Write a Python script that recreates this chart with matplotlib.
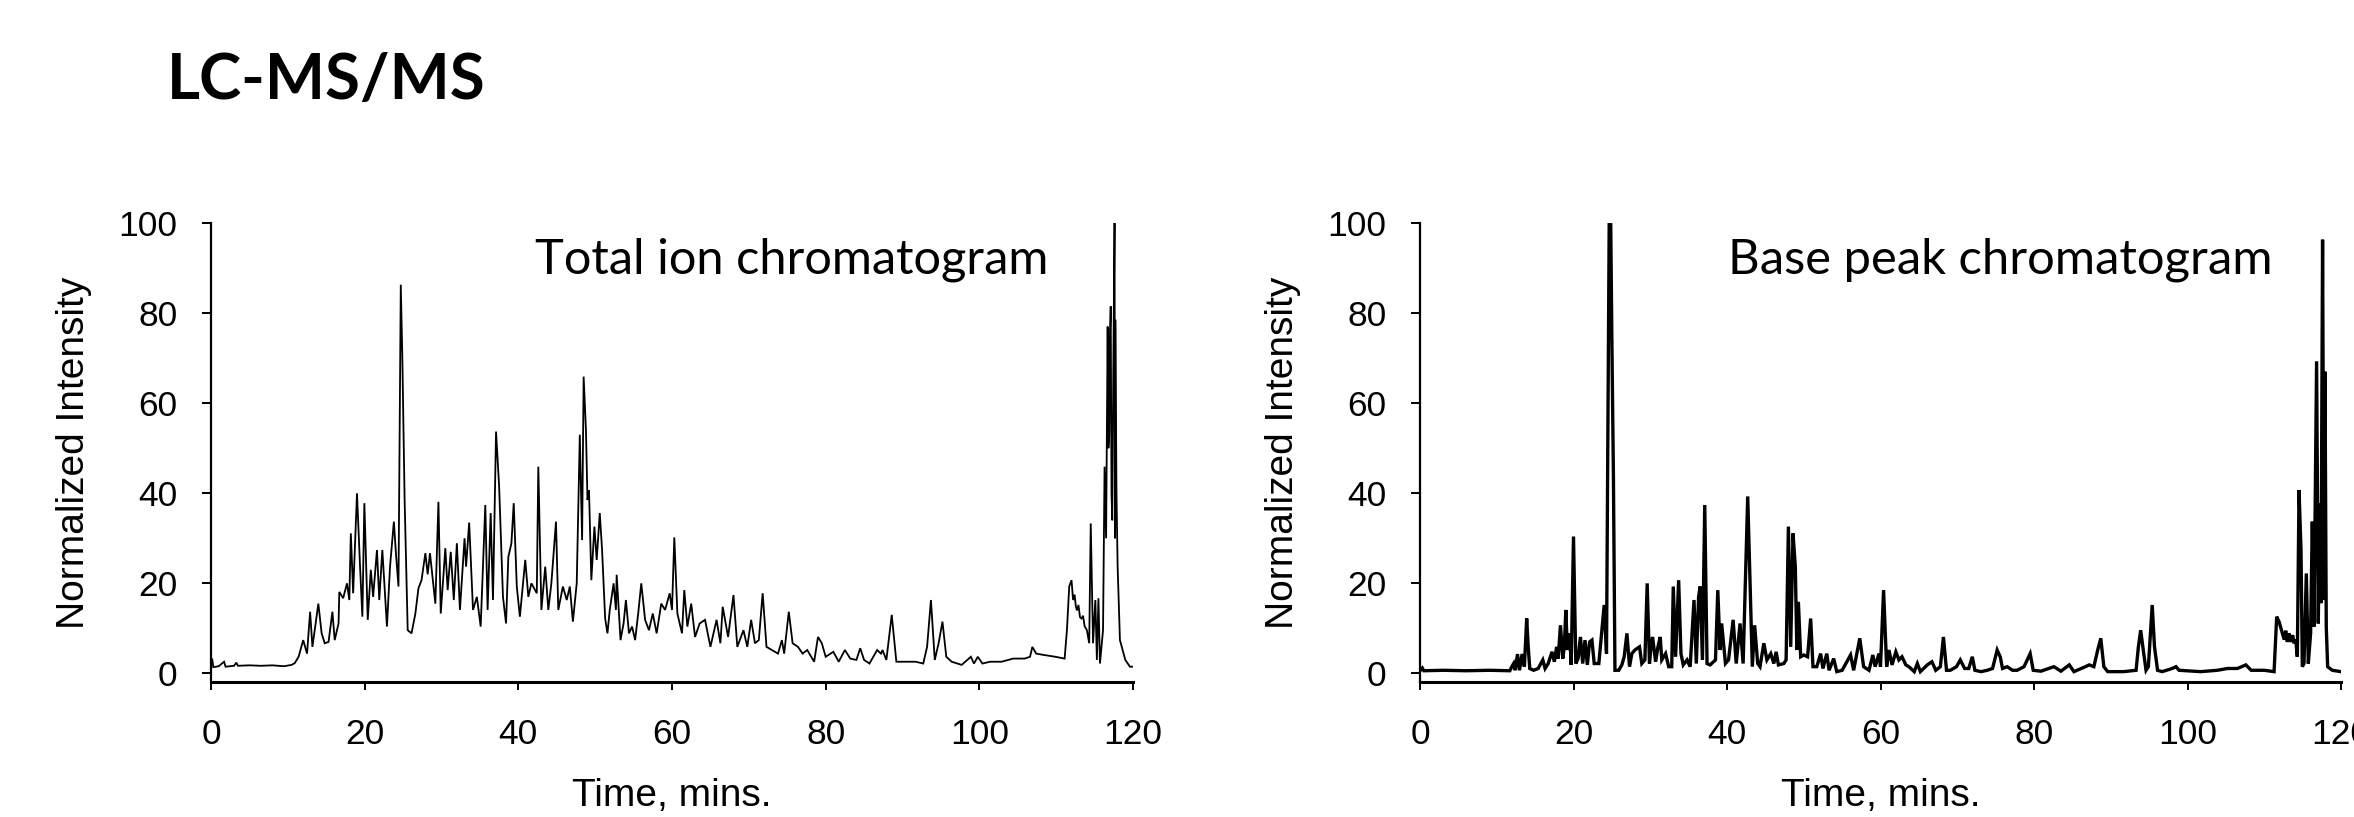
import matplotlib
matplotlib.use("Agg")
import matplotlib.pyplot as plt

# ---------------- data ----------------
tic_time = [0.0, 0.15, 0.3, 1.0, 1.7, 1.9, 3.0, 3.3, 3.5, 5.0, 6.5, 8.0, 9.5, 10.5, 10.9,
            11.4, 12.0, 12.5, 12.9, 13.2, 13.5, 13.97, 14.4, 14.8, 15.3, 15.8, 16.1, 16.6,
            16.7, 17.2, 17.7, 18.0, 18.2, 18.5, 19.0, 19.4, 19.7, 19.96, 20.4, 20.8, 21.1,
            21.6, 21.9, 22.3, 22.9, 23.3, 23.8, 24.1, 24.4, 24.7, 24.9, 25.2, 25.6, 26.1,
            26.6, 27.0, 27.4, 27.9, 28.2, 28.5, 29.2, 29.6, 29.9, 30.5, 30.8, 31.2, 31.6,
            32.0, 32.4, 33.0, 33.2, 33.6, 34.1, 34.6, 35.1, 35.7, 36.0, 36.4, 36.7, 37.1,
            37.5, 38.0, 38.4, 38.7, 39.1, 39.4, 39.8, 40.2, 40.9, 41.3, 41.7, 42.4, 42.6,
            43.0, 43.5, 43.9, 44.3, 44.9, 45.2, 45.8, 46.3, 46.7, 47.1, 47.6, 48.0, 48.3,
            48.5, 48.8, 49.0, 49.2, 49.5, 49.9, 50.2, 50.6, 50.9, 51.3, 51.6, 51.9, 52.4,
            52.7, 52.8, 53.3, 53.7, 54.0, 54.4, 54.8, 55.2, 55.6, 56.0, 56.5, 57.0, 57.5,
            58.0, 58.6, 59.1, 59.7, 60.0, 60.3, 60.7, 61.3, 61.6, 62.0, 62.5, 63.0, 63.6,
            64.3, 65.0, 65.8, 66.3, 66.6, 67.3, 68.0, 68.5, 69.3, 69.8, 70.3, 70.8, 71.3,
            71.8, 72.3, 73.0, 73.8, 74.3, 74.6, 75.2, 75.7, 76.4, 77.0, 77.6, 78.5, 79.0,
            79.5, 80.0, 81.0, 81.7, 82.5, 83.2, 84.0, 84.5, 85.0, 85.7, 86.7, 87.2, 87.4,
            87.9, 88.6, 89.2, 90.4, 91.7, 92.7, 93.2, 93.7, 94.2, 94.7, 95.2, 95.7, 96.4,
            97.7, 98.9, 99.3, 99.8, 100.4, 101.4, 102.9, 104.4, 105.9, 106.6, 106.9, 107.4,
            108.4, 109.9, 111.1, 111.4, 111.7, 112.0, 112.2, 112.4, 112.55, 112.7, 112.9,
            113.1, 113.3, 113.5, 113.7, 114.0, 114.3, 114.5, 114.8, 115.1, 115.3, 115.5,
            115.7, 116.1, 116.3, 116.5, 116.7, 116.8, 116.9, 117.0, 117.1, 117.2, 117.3,
            117.45, 117.6, 117.65, 117.7, 117.85, 118.0, 118.3, 119.0, 119.6, 120.0]
tic_intensity = [1.5, 3.3, 1.4, 1.6, 2.6, 1.5, 1.7, 2.4, 1.7, 1.8, 1.7, 1.8, 1.6, 1.9, 2.3,
                 3.7, 7.4, 4.4, 13.7, 5.9, 9.6, 15.5, 8.9, 6.7, 7.0, 13.7, 7.4, 11.1,
                 18.1, 16.7, 20.0, 16.3, 31.1, 17.8, 40.0, 23.7, 12.6, 37.8, 11.9, 23.0, 17.0,
                 27.4, 16.3, 27.4, 10.4, 23.7, 33.7, 25.9, 19.3, 86.3, 70.4, 38.5, 9.6, 8.9,
                 13.3, 18.9, 20.7, 26.7, 22.0, 26.7, 15.5, 38.1, 13.3, 27.8, 18.5, 27.0, 16.3,
                 28.9, 14.1, 30.0, 23.7, 33.5, 14.1, 17.0, 10.4, 37.4, 14.1, 35.6, 16.3, 53.7,
                 41.5, 17.0, 11.1, 25.9, 28.9, 37.8, 19.3, 12.6, 25.2, 17.0, 20.0, 17.8, 45.9,
                 14.1, 23.7, 14.1, 20.0, 33.7, 14.1, 19.3, 16.3, 19.3, 11.5, 20.0, 53.0, 29.6,
                 65.9, 54.0, 38.5, 40.7, 20.7, 32.6, 25.2, 35.6, 27.4, 12.2, 8.9, 14.1, 20.0,
                 14.1, 21.9, 7.4, 11.1, 16.3, 8.9, 10.4, 7.4, 13.3, 20.0, 11.9, 9.6, 13.3,
                 8.9, 15.5, 14.1, 17.8, 14.1, 30.2, 13.3, 8.9, 18.5, 10.4, 15.5, 8.1, 11.1,
                 11.9, 5.9, 11.9, 6.7, 14.8, 8.1, 17.4, 5.9, 9.6, 5.9, 11.9, 6.7, 7.4,
                 17.8, 5.9, 5.2, 4.4, 7.4, 4.4, 13.7, 6.7, 5.9, 4.4, 5.2, 2.6, 8.1,
                 6.7, 3.7, 4.8, 2.6, 5.2, 3.3, 3.0, 5.6, 3.0, 2.2, 5.2, 4.4, 5.2,
                 3.0, 13.0, 2.6, 2.6, 2.6, 2.2, 5.9, 16.3, 3.0, 6.7, 11.5, 3.7, 2.6,
                 1.9, 3.7, 2.2, 3.7, 2.2, 2.6, 2.6, 3.3, 3.3, 3.7, 5.9, 4.4,
                 4.1, 3.7, 3.3, 9.6, 19.3, 20.7, 16.3, 17.5, 15.0, 14.0, 15.2,
                 12.5, 12.2, 12.8, 10.5, 9.6, 6.7, 33.3, 6.7, 16.3, 3.0, 16.7,
                 2.2, 9.6, 45.9, 30.0, 77.0, 50.0, 53.0, 75.0, 81.5, 40.0, 34.0,
                 70.0, 100.0, 30.0, 78.5, 40.0, 23.7, 7.4, 3.0, 1.5, 1.5]

bpc_time = [0.0, 0.3, 0.5, 3.0, 6.0, 9.0, 11.7, 11.96, 12.2, 12.4, 12.7, 12.96, 13.3, 13.6,
            13.9, 14.1, 14.3, 14.8, 15.4, 16.0, 16.3, 16.7, 17.2, 17.5, 17.8, 18.0, 18.3,
            18.6, 18.8, 19.0, 19.2, 19.5, 19.7, 20.0, 20.3, 20.6, 20.9, 21.2, 21.5, 21.8,
            22.1, 22.4, 22.7, 23.3, 23.7, 24.0, 24.3, 24.65, 24.85, 25.0, 25.2, 25.4, 25.9,
            26.3, 26.6, 26.96, 27.3, 27.6, 28.0, 28.6, 28.9, 29.3, 29.6, 29.9, 30.1, 30.3,
            30.7, 31.0, 31.3, 31.5, 32.0, 32.4, 32.8, 33.0, 33.3, 33.7, 34.0, 34.3, 34.8,
            35.2, 35.7, 36.0, 36.3, 36.5, 36.8, 37.1, 37.4, 37.8, 38.5, 38.8, 39.1, 39.3,
            39.8, 40.2, 40.8, 41.2, 41.7, 42.1, 42.7, 43.0, 43.3, 43.6, 44.0, 44.3, 44.8,
            45.2, 45.7, 46.1, 46.4, 46.7, 47.4, 47.7, 48.0, 48.3, 48.6, 48.9, 49.1, 49.3,
            49.6, 50.0, 50.5, 50.9, 51.2, 51.7, 52.2, 52.5, 53.0, 53.3, 53.9, 54.3, 55.0,
            56.1, 56.5, 57.3, 57.8, 58.5, 59.0, 59.3, 59.8, 60.0, 60.4, 60.8, 61.1, 61.5,
            62.0, 62.4, 62.8, 63.3, 63.7, 64.4, 64.8, 65.2, 66.1, 66.7, 67.2, 67.8, 68.2,
            68.6, 69.1, 69.9, 70.4, 70.96, 71.5, 71.96, 72.3, 73.1, 73.9, 74.6, 75.2, 75.6,
            75.9, 76.5, 77.2, 77.8, 78.7, 79.5, 79.9, 80.9, 82.6, 83.5, 84.6, 85.2, 86.7,
            87.2, 87.8, 88.3, 88.7, 89.1, 89.6, 91.7, 93.3, 93.6, 93.9, 94.3, 94.6, 94.9,
            95.4, 95.7, 96.1, 96.7, 98.0, 98.5, 98.9, 101.7, 103.9, 105.2, 106.5, 107.6,
            108.3, 110.0, 111.28, 111.62, 111.93, 112.36, 112.6, 112.8, 113.0, 113.23,
            113.5, 113.7, 113.88, 114.1, 114.31, 114.53, 114.79, 114.96, 115.18, 115.48,
            115.74, 116.04, 116.26, 116.48, 116.82, 117.04, 117.21, 117.39, 117.6, 117.78,
            117.91, 118.08, 118.26, 118.86, 120.0]
bpc_intensity = [0.6, 1.2, 0.6, 0.7, 0.6, 0.7, 0.6, 1.5, 2.2, 0.7, 4.3, 0.7, 4.3, 1.5,
                 12.2, 5.9, 1.1, 0.7, 1.1, 3.0, 1.1, 2.2, 4.8, 2.6, 5.9, 3.3, 10.7,
                 3.3, 5.9, 14.1, 5.2, 8.9, 1.9, 30.4, 2.2, 3.3, 8.1, 2.2, 7.4, 1.9,
                 7.0, 7.4, 2.2, 2.2, 9.6, 15.2, 4.4, 100.0, 100.0, 74.0, 44.0, 0.7, 0.7,
                 1.9, 3.7, 8.9, 1.5, 4.4, 5.2, 5.9, 2.2, 3.0, 20.0, 2.2, 5.9, 8.1,
                 2.6, 5.9, 8.1, 3.0, 4.4, 1.5, 1.5, 19.3, 3.7, 20.7, 4.4, 1.9, 3.0,
                 1.5, 16.3, 2.2, 17.0, 19.3, 3.0, 37.4, 2.2, 1.9, 3.0, 18.5, 5.2, 11.1,
                 2.2, 3.0, 11.9, 2.2, 11.1, 2.2, 39.3, 20.0, 1.5, 10.7, 2.2, 1.5, 6.7,
                 3.0, 4.4, 2.2, 4.8, 1.9, 2.2, 3.0, 32.6, 5.9, 31.1, 23.7, 5.2, 15.9,
                 3.7, 4.1, 3.7, 12.2, 1.5, 1.5, 4.4, 1.1, 4.4, 0.7, 3.3, 0.4, 0.7,
                 4.1, 0.7, 7.8, 1.5, 0.7, 4.1, 1.5, 4.4, 1.5, 18.5, 1.5, 5.2, 1.9,
                 4.8, 3.0, 3.7, 1.9, 1.5, 0.4, 2.2, 0.4, 1.9, 2.6, 0.7, 1.5, 8.1,
                 0.7, 0.7, 1.5, 3.0, 1.1, 1.1, 3.7, 0.7, 0.4, 0.7, 1.1, 5.2, 3.7,
                 1.1, 1.5, 0.7, 0.7, 1.5, 4.4, 0.7, 0.5, 1.5, 0.5, 1.9, 0.4, 1.5,
                 1.9, 1.5, 5.2, 7.8, 1.5, 0.4, 0.4, 0.7, 5.9, 9.6, 4.4, 0.7, 1.5,
                 15.2, 5.9, 0.7, 0.4, 1.1, 1.5, 0.7, 0.4, 0.7, 1.1, 1.1, 1.9,
                 0.7, 0.7, 0.4, 12.6, 11.5, 8.9, 7.5, 9.5, 7.0, 8.9,
                 7.0, 8.5, 6.7, 7.5, 3.7, 40.7, 27.4, 1.5, 2.2, 22.2,
                 2.2, 8.9, 33.7, 10.4, 69.3, 11.1, 37.8, 15.6, 96.3, 16.3,
                 67.0, 10.4, 1.5, 0.7, 0.4]

x_ticks = [0, 20, 40, 60, 80, 100, 120]
y_ticks = [0, 20, 40, 60, 80, 100]
panel_titles = ["Total ion chromatogram", "Base peak chromatogram"]
main_title = "LC-MS/MS"
x_label = "Time, mins."
y_label = "Normalized Intensity"

# ---------------- figure ----------------
W, H = 2354, 817
fig = plt.figure(figsize=(W / 100, H / 100), dpi=100)
fig.patch.set_facecolor("white")

axis_font = ["Liberation Sans", "DejaVu Sans"]
text_font = ["Lato", "DejaVu Sans"]


def px_rect(x0, x1, ytop, ybot):
    return [x0 / W, (H - ybot) / H, (x1 - x0) / W, (ybot - ytop) / H]


ax1 = fig.add_axes(px_rect(211, 1133, 223, 682))
ax2 = fig.add_axes(px_rect(1420, 2341, 223, 682))

series = [(ax1, tic_time, tic_intensity, 1.3), (ax2, bpc_time, bpc_intensity, 2.4)]
for ax, t, y, lw in series:
    ax.plot(t, y, color="black", lw=lw, solid_joinstyle="miter")
    ax.set_xlim(0, 120)
    ax.set_ylim(-1.9, 100)
    ax.set_xticks(x_ticks)
    ax.set_yticks(y_ticks)
    ax.spines["top"].set_visible(False)
    ax.spines["right"].set_visible(False)
    ax.spines["left"].set_linewidth(1.6)
    ax.spines["bottom"].set_linewidth(2.2)
    ax.tick_params(axis="x", direction="out", length=5.8, width=1.4, pad=20,
                   labelsize=25.5)
    ax.tick_params(axis="y", direction="out", length=6.7, width=1.4, pad=17.5,
                   labelsize=25.5)
    for lab in ax.get_xticklabels() + ax.get_yticklabels():
        lab.set_fontfamily(axis_font)
    ax.set_xlabel(x_label, fontsize=28, family=axis_font)
    ax.set_ylabel(y_label, fontsize=28, family=axis_font)
    ax.xaxis.set_label_coords(0.5, (682 - 778) / 459)
    ax.yaxis.set_label_coords((92 - 211) / 922, 0.5)
    ax.set_facecolor("none")

# texts fitted to measured widths
renderer = fig.canvas.get_renderer()


def fitted_text(x_left, baseline, width, s, weight="normal", size=40):
    t = fig.text(x_left / W, (H - baseline) / H, s, ha="left", va="baseline",
                 fontsize=size, fontweight=weight, family=text_font)
    for _ in range(2):
        bb = t.get_window_extent(renderer)
        t.set_fontsize(t.get_fontsize() * width / bb.width)
    return t


fitted_text(167, 99, 319, main_title, weight="bold", size=48)
fitted_text(535, 274, 513, panel_titles[0], size=38)
fitted_text(1728, 274, 545, panel_titles[1], size=38)

fig.savefig("out.png", dpi=100, facecolor="white")
